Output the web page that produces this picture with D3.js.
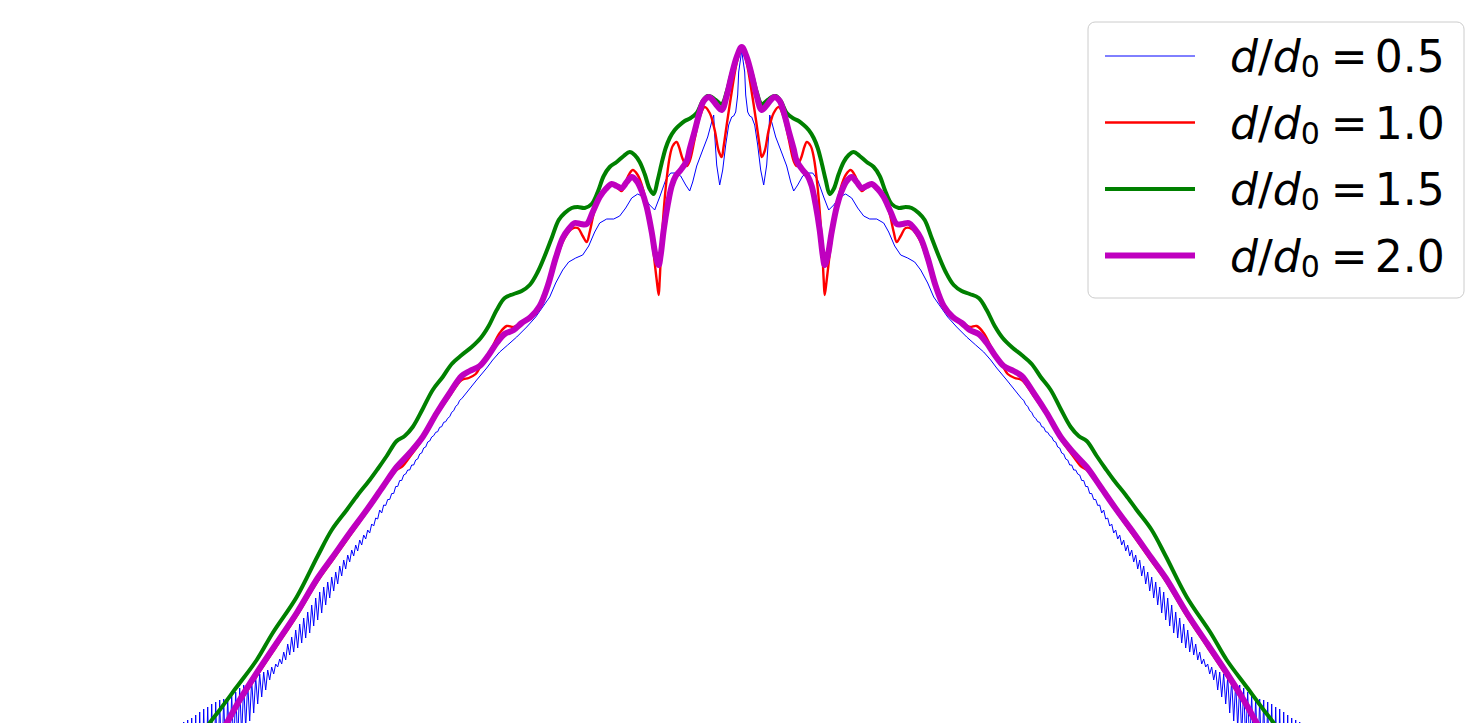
<!DOCTYPE html>
<html>
<head>
<meta charset="utf-8">
<script src="https://cdn.jsdelivr.net/npm/d3@7"></script>
<style>
  html, body { margin: 0; padding: 0; background: #fff; }
  svg { display: block; }
</style>
</head>
<body>
<div id="chart"></div>
<script>
// level (dB, y) against angle (deg, x) for four spacings d/d0
// each flank is listed from the central peak outward
var labels = ['0.5', '1.0', '1.5', '2.0']

var blueLeft = [
  [0, -0.3], [-0.1, -1.1], [-0.3, -2.5], [-0.4, -4.8], [-0.6, -6.5], [-0.8, -6.9], [-1.0, -7.0],
  [-1.3, -7.8], [-1.6, -9.8], [-1.9, -12.3], [-2.2, -13.8], [-2.5, -11.8], [-2.7, -8.8], [-2.8, -6.8],
  [-3.0, -7.5], [-3.4, -9.0], [-3.9, -10.3], [-4.5, -11.9], [-4.9, -13.5], [-5.2, -14.4], [-5.6, -13.8],
  [-6.1, -12.9], [-6.6, -12.6], [-7.1, -12.6], [-7.6, -13.3], [-8.2, -15.0], [-8.7, -16.3], [-9.2, -15.8],
  [-9.8, -15.0], [-10.4, -14.7], [-11.0, -15.1], [-11.6, -16.1], [-12.2, -16.9], [-12.8, -17.2],
  [-13.5, -17.2], [-14.2, -17.6], [-14.7, -18.5], [-15.3, -19.9], [-15.9, -20.8], [-16.6, -21.1],
  [-17.3, -21.5], [-17.9, -22.3], [-18.6, -23.6], [-19.2, -25.0], [-19.9, -26.0], [-20.6, -27.0],
  [-21.5, -28.0], [-22.5, -29.0], [-23.4, -29.8], [-24.2, -30.5], [-24.9, -31.3], [-25.5, -32.1],
  [-26.5, -33.3],
  [-28.0, -35.17], [-28.2, -35.33], [-28.4, -35.77], [-28.6, -35.93], [-28.8, -36.37], [-29.0, -36.53],
  [-29.2, -36.97], [-29.4, -37.13], [-29.6, -37.47], [-29.8, -37.53], [-30.0, -37.97], [-30.2, -38.03],
  [-30.4, -38.47], [-30.6, -38.53], [-30.8, -38.87], [-31.0, -39.0], [-31.2, -39.4], [-31.4, -39.5],
  [-31.6, -40.0], [-31.8, -40.1], [-32.0, -40.6], [-32.2, -40.7], [-32.4, -41.2], [-32.6, -41.3],
  [-32.8, -41.8], [-33.0, -41.8], [-33.2, -42.3], [-33.4, -42.3], [-33.6, -42.7], [-33.8, -42.8],
  [-34.0, -43.35], [-34.2, -43.35], [-34.4, -43.95], [-34.6, -43.95], [-34.8, -44.65], [-35.0, -44.65],
  [-35.2, -45.25], [-35.4, -45.25], [-35.6, -45.85], [-35.8, -45.8], [-36.0, -46.6],
  [-36.2, -46.3], [-36.4, -47.2], [-36.6, -47.1], [-36.8, -47.9], [-37.0, -47.7], [-37.2, -48.6],
  [-37.4, -48.3], [-37.6, -49.2], [-37.8, -48.8], [-38.0, -49.8], [-38.2, -49.3], [-38.4, -50.4],
  [-38.6, -49.8], [-38.8, -50.9], [-39.0, -50.3], [-39.2, -51.5], [-39.4, -50.8], [-39.6, -52.2],
  [-39.8, -51.3], [-40.0, -52.9], [-40.2, -51.9], [-40.4, -53.7], [-40.6, -52.5], [-40.8, -54.4],
  [-41.0, -53.0], [-41.2, -55.1], [-41.4, -53.5], [-41.6, -55.8], [-41.8, -54.0], [-42.0, -56.6],
  [-42.2, -54.5], [-42.4, -57.3], [-42.6, -55.1], [-42.8, -57.9], [-43.0, -55.8], [-43.2, -58.6],
  [-43.4, -56.5], [-43.6, -59.1], [-43.8, -57.1], [-44.0, -59.6], [-44.2, -57.7], [-44.4, -60.1],
  [-44.6, -58.3], [-44.8, -60.5], [-45.0, -59.0], [-45.2, -60.8], [-45.4, -59.7], [-45.6, -61.3],
  [-45.8, -60.5], [-46.0, -61.7], [-46.2, -61.2], [-46.4, -62.0], [-46.6, -61.7], [-46.8, -62.7],
  [-47.0, -62.0], [-47.2, -63.3], [-47.4, -62.3], [-47.6, -64.3], [-47.8, -62.5], [-48.0, -65.0],
  [-48.2, -62.7], [-48.4, -65.7], [-48.6, -63.0], [-48.8, -66.6], [-49.0, -63.3], [-49.2, -67.4],
  [-49.4, -63.6], [-49.6, -68.1], [-49.8, -63.8], [-50.0, -68.8], [-50.2, -64.1], [-50.4, -69.4],
  [-50.6, -64.5], [-50.8, -70.1], [-51.0, -64.8], [-51.2, -70.8], [-51.4, -65.1], [-51.6, -71.4],
  [-51.8, -65.2], [-52.0, -72.0], [-52.2, -65.3], [-52.4, -72.6], [-52.6, -65.5], [-52.8, -73.3],
  [-53.0, -65.7], [-53.2, -73.9], [-53.4, -66.0], [-53.6, -74.4], [-53.8, -66.2], [-54.0, -75.0],
  [-54.2, -66.5], [-54.4, -75.6], [-54.6, -66.8], [-54.8, -76.3], [-55.0, -67.1], [-55.2, -76.8],
  [-55.4, -67.3], [-55.6, -77.3], [-55.8, -67.5], [-56.0, -77.8]
]
var blueRight = [
  [0.1, -1.1], [0.3, -2.5], [0.4, -4.8], [0.6, -6.5], [0.8, -6.9], [1.0, -7.0],
  [1.3, -7.8], [1.6, -9.8], [1.9, -12.3], [2.2, -13.8], [2.5, -11.8], [2.7, -8.8], [2.8, -6.8],
  [3.0, -7.5], [3.4, -9.0], [3.9, -10.3], [4.5, -11.9], [4.9, -13.5], [5.2, -14.4], [5.6, -13.8],
  [6.1, -12.9], [6.6, -12.6], [7.1, -12.6], [7.6, -13.3], [8.2, -15.0], [8.7, -16.3], [9.2, -15.8],
  [9.8, -15.0], [10.4, -14.7], [11.0, -15.1], [11.6, -16.1], [12.2, -16.9], [12.8, -17.2],
  [13.5, -17.2], [14.2, -17.6], [14.7, -18.5], [15.3, -19.9], [15.9, -20.8], [16.6, -21.1],
  [17.3, -21.5], [17.9, -22.3], [18.6, -23.6], [19.2, -25.0], [19.9, -26.0], [20.6, -27.0],
  [21.5, -28.0], [22.5, -29.0], [23.4, -29.8], [24.2, -30.5], [24.9, -31.3], [25.5, -32.1],
  [26.5, -33.3],
  [28.0, -35.17], [28.2, -35.33], [28.4, -35.77], [28.6, -35.93], [28.8, -36.37], [29.0, -36.53],
  [29.2, -36.97], [29.4, -37.13], [29.6, -37.47], [29.8, -37.53], [30.0, -37.97], [30.2, -38.03],
  [30.4, -38.47], [30.6, -38.53], [30.8, -38.87], [31.0, -39.0], [31.2, -39.4], [31.4, -39.5],
  [31.6, -40.0], [31.8, -40.1], [32.0, -40.6], [32.2, -40.7], [32.4, -41.2], [32.6, -41.3],
  [32.8, -41.8], [33.0, -41.8], [33.2, -42.3], [33.4, -42.3], [33.6, -42.7], [33.8, -42.8],
  [34.0, -43.35], [34.2, -43.35], [34.4, -43.95], [34.6, -43.95], [34.8, -44.65], [35.0, -44.65],
  [35.2, -45.25], [35.4, -45.25], [35.6, -45.85], [35.8, -45.8], [36.0, -46.6],
  [36.2, -46.3], [36.4, -47.2], [36.6, -47.1], [36.8, -47.9], [37.0, -47.7], [37.2, -48.6],
  [37.4, -48.3], [37.6, -49.2], [37.8, -48.8], [38.0, -49.8], [38.2, -49.3], [38.4, -50.4],
  [38.6, -49.8], [38.8, -50.9], [39.0, -50.3], [39.2, -51.5], [39.4, -50.8], [39.6, -52.2],
  [39.8, -51.3], [40.0, -52.9], [40.2, -51.9], [40.4, -53.7], [40.6, -52.5], [40.8, -54.4],
  [41.0, -53.0], [41.2, -55.1], [41.4, -53.5], [41.6, -55.8], [41.8, -54.0], [42.0, -56.6],
  [42.2, -54.5], [42.4, -57.3], [42.6, -55.1], [42.8, -57.9], [43.0, -55.8], [43.2, -58.6],
  [43.4, -56.5], [43.6, -59.1], [43.8, -57.1], [44.0, -59.6], [44.2, -57.7], [44.4, -60.1],
  [44.6, -58.3], [44.8, -60.5], [45.0, -59.0], [45.2, -60.8], [45.4, -59.7], [45.6, -61.3],
  [45.8, -60.5], [46.0, -61.7], [46.2, -61.2], [46.4, -62.0], [46.6, -61.7], [46.8, -62.7],
  [47.0, -62.0], [47.2, -63.3], [47.4, -62.3], [47.6, -64.3], [47.8, -62.5], [48.0, -65.0],
  [48.2, -62.7], [48.4, -65.7], [48.6, -63.0], [48.8, -66.6], [49.0, -63.3], [49.2, -67.4],
  [49.4, -63.6], [49.6, -68.1], [49.8, -63.8], [50.0, -68.8], [50.2, -64.1], [50.4, -69.4],
  [50.6, -64.5], [50.8, -70.1], [51.0, -64.8], [51.2, -70.8], [51.4, -65.1], [51.6, -71.4],
  [51.8, -65.2], [52.0, -72.0], [52.2, -65.3], [52.4, -72.6], [52.6, -65.5], [52.8, -73.3],
  [53.0, -65.7], [53.2, -73.9], [53.4, -66.0], [53.6, -74.4], [53.8, -66.2], [54.0, -75.0],
  [54.2, -66.5], [54.4, -75.6], [54.6, -66.8], [54.8, -76.3], [55.0, -67.1], [55.2, -76.8],
  [55.4, -67.3], [55.6, -77.3], [55.8, -67.5], [56.0, -77.8]
]

var redLeft = [
  [0, 0], [-0.5, -1.6], [-1.0, -4.5], [-1.5, -7.8], [-1.8, -9.9], [-2.0, -11.0], [-2.3, -10.4],
  [-2.7, -8.3], [-3.2, -6.6], [-3.7, -6.0], [-4.2, -7.0], [-4.7, -9.2], [-5.2, -11.4], [-5.5, -11.9],
  [-5.9, -11.2], [-6.3, -9.9], [-6.5, -9.5], [-6.9, -9.9], [-7.2, -11.0], [-7.6, -14.1], [-8.0, -19.3],
  [-8.2, -23.3], [-8.3, -24.8], [-8.5, -23.3], [-8.9, -19.9], [-9.4, -16.3], [-9.9, -14.1], [-10.4, -12.8],
  [-10.9, -12.3], [-11.4, -13.0], [-12.0, -14.4], [-12.5, -14.0], [-13.0, -13.6], [-13.6, -14.1],
  [-14.2, -14.9], [-14.8, -16.7], [-15.2, -18.5], [-15.5, -19.5], [-15.9, -18.9], [-16.4, -18.1],
  [-17.0, -18.2], [-17.8, -19.3], [-18.6, -21.5], [-19.4, -24.1], [-20.2, -26.0], [-21.1, -27.0],
  [-22.0, -27.5], [-22.8, -28.0], [-23.5, -27.9], [-24.2, -28.6], [-25.2, -30.5], [-26.1, -31.9],
  [-26.6, -32.7], [-27.3, -33.1], [-28.0, -33.3], [-29.2, -34.9], [-30.5, -36.8], [-31.9, -39.2],
  [-33.2, -41.0], [-33.9, -41.9], [-34.5, -42.3], [-35.9, -44.2], [-37.5, -46.5], [-39.2, -48.9],
  [-40.9, -51.3], [-42.4, -53.4], [-44.5, -56.9], [-46.5, -59.9], [-48.5, -62.9], [-50.2, -65.6],
  [-51.5, -67.9], [-53.0, -70.4]
]
var redRight = [
  [0.5, -1.6], [1.0, -4.5], [1.5, -7.8], [1.8, -9.9], [2.0, -11.0], [2.3, -10.4],
  [2.7, -8.3], [3.2, -6.6], [3.7, -6.0], [4.2, -7.0], [4.7, -9.2], [5.2, -11.4], [5.5, -11.9],
  [5.9, -11.2], [6.3, -9.9], [6.5, -9.5], [6.9, -9.9], [7.2, -11.0], [7.6, -14.1], [8.0, -19.3],
  [8.2, -23.3], [8.3, -24.8], [8.5, -23.3], [8.9, -19.9], [9.4, -16.3], [9.9, -14.1], [10.4, -12.8],
  [10.9, -12.3], [11.4, -13.0], [12.0, -14.4], [12.5, -14.0], [13.0, -13.6], [13.6, -14.1],
  [14.2, -14.9], [14.8, -16.7], [15.2, -18.5], [15.5, -19.5], [15.9, -18.9], [16.4, -18.1],
  [17.0, -18.2], [17.8, -19.3], [18.6, -21.5], [19.4, -24.1], [20.2, -26.0], [21.1, -27.0],
  [22.0, -27.5], [22.8, -28.0], [23.5, -27.9], [24.2, -28.6], [25.2, -30.5], [26.1, -31.9],
  [26.6, -32.7], [27.3, -33.1], [28.0, -33.3], [29.2, -34.9], [30.5, -36.8], [31.9, -39.2],
  [33.2, -41.0], [33.9, -41.9], [34.5, -42.3], [35.9, -44.2], [37.5, -46.5], [39.2, -48.9],
  [40.9, -51.3], [42.4, -53.4], [44.5, -56.9], [46.5, -59.9], [48.5, -62.9], [50.2, -65.6],
  [51.5, -67.9], [53.0, -70.4]
]

var greenLeft = [
  [0, 0], [-0.5, -1.1], [-1.0, -2.6], [-1.5, -4.5], [-2.0, -5.7], [-2.6, -5.3], [-3.0, -5.0],
  [-3.4, -4.9], [-3.9, -5.4], [-4.5, -6.6], [-5.1, -7.1], [-5.7, -7.4], [-6.2, -7.8], [-6.7, -8.3],
  [-7.2, -9.1], [-7.6, -10.1], [-8.0, -11.6], [-8.4, -13.3], [-8.8, -14.7], [-9.2, -14.2], [-9.7, -12.7],
  [-10.2, -11.5], [-10.7, -10.8], [-11.2, -10.5], [-11.8, -10.9], [-12.5, -11.5], [-13.2, -12.0],
  [-13.8, -12.9], [-14.4, -14.5], [-15.0, -15.7], [-15.7, -16.1], [-16.4, -16.0], [-17.0, -16.1],
  [-17.7, -16.6], [-18.3, -17.3], [-19.0, -19.1], [-19.7, -20.9], [-20.4, -22.5], [-21.2, -23.8],
  [-22.0, -24.4], [-22.8, -24.7], [-23.7, -25.1], [-24.5, -26.3], [-25.3, -27.9], [-26.1, -29.1],
  [-27.0, -30.0], [-28.0, -30.8], [-29.0, -31.7], [-29.9, -33.0], [-30.9, -34.3], [-31.9, -36.2],
  [-32.9, -38.0], [-33.7, -38.9], [-34.5, -39.4], [-35.5, -40.9], [-36.4, -42.2], [-37.2, -43.3],
  [-38.4, -44.8], [-39.5, -46.3], [-41.0, -48.3], [-42.4, -50.9], [-44.5, -55.0], [-46.9, -58.6],
  [-48.5, -61.3], [-50.5, -64.0], [-52.2, -66.3], [-53.2, -67.6], [-54.6, -69.8]
]
var greenRight = [
  [0.5, -1.1], [1.0, -2.6], [1.5, -4.5], [2.0, -5.7], [2.6, -5.3], [3.0, -5.0],
  [3.4, -4.9], [3.9, -5.4], [4.5, -6.6], [5.1, -7.1], [5.7, -7.4], [6.2, -7.8], [6.7, -8.3],
  [7.2, -9.1], [7.6, -10.1], [8.0, -11.6], [8.4, -13.3], [8.8, -14.7], [9.2, -14.2], [9.7, -12.7],
  [10.2, -11.5], [10.7, -10.8], [11.2, -10.5], [11.8, -10.9], [12.5, -11.5], [13.2, -12.0],
  [13.8, -12.9], [14.4, -14.5], [15.0, -15.7], [15.7, -16.1], [16.4, -16.0], [17.0, -16.1],
  [17.7, -16.6], [18.3, -17.3], [19.0, -19.1], [19.7, -20.9], [20.4, -22.5], [21.2, -23.8],
  [22.0, -24.4], [22.8, -24.7], [23.7, -25.1], [24.5, -26.3], [25.3, -27.9], [26.1, -29.1],
  [27.0, -30.0], [28.0, -30.8], [29.0, -31.7], [29.9, -33.0], [30.9, -34.3], [31.9, -36.2],
  [32.9, -38.0], [33.7, -38.9], [34.5, -39.4], [35.5, -40.9], [36.4, -42.2], [37.2, -43.3],
  [38.4, -44.8], [39.5, -46.3], [41.0, -48.3], [42.4, -50.9], [44.5, -55.0], [46.9, -58.6],
  [48.5, -61.3], [50.5, -64.0], [52.2, -66.3], [53.2, -67.6], [54.6, -69.8]
]

var magentaLeft = [
  [0, 0], [-0.5, -1.0], [-1.0, -2.8], [-1.5, -4.9], [-2.0, -6.3], [-2.6, -5.7], [-3.0, -5.2],
  [-3.3, -5.0], [-3.8, -5.4], [-4.2, -6.5], [-4.7, -8.4], [-5.2, -10.2], [-5.5, -11.4], [-6.1, -12.3],
  [-6.6, -12.9], [-7.0, -13.9], [-7.4, -15.8], [-7.8, -18.3], [-8.1, -20.8], [-8.3, -21.8], [-8.6, -20.9],
  [-9.0, -18.5], [-9.5, -16.0], [-10.0, -14.4], [-10.5, -13.4], [-11.0, -13.0], [-11.5, -13.5],
  [-12.0, -14.1], [-12.5, -13.9], [-13.0, -13.7], [-13.6, -14.2], [-14.2, -15.0], [-14.9, -16.5],
  [-15.5, -17.7], [-16.1, -17.7], [-16.7, -17.6], [-17.3, -18.2], [-17.9, -19.1], [-18.6, -21.1],
  [-19.4, -23.9], [-20.2, -25.9], [-21.1, -27.0], [-22.0, -27.6], [-22.8, -28.3], [-23.7, -28.7],
  [-24.5, -29.6], [-25.3, -30.8], [-26.2, -31.9], [-27.2, -32.4], [-28.0, -32.9], [-29.2, -34.6],
  [-30.5, -36.6], [-31.9, -39.0], [-33.2, -40.6], [-34.5, -42.0], [-35.9, -44.0], [-37.5, -46.3],
  [-39.2, -48.6], [-40.9, -51.0], [-42.4, -53.1], [-44.5, -56.6], [-46.5, -59.6], [-48.5, -62.6],
  [-50.2, -65.3], [-51.5, -67.6], [-53.0, -70.1]
]
var magentaRight = [
  [0.5, -1.0], [1.0, -2.8], [1.5, -4.9], [2.0, -6.3], [2.6, -5.7], [3.0, -5.2],
  [3.3, -5.0], [3.8, -5.4], [4.2, -6.5], [4.7, -8.4], [5.2, -10.2], [5.5, -11.4], [6.1, -12.3],
  [6.6, -12.9], [7.0, -13.9], [7.4, -15.8], [7.8, -18.3], [8.1, -20.8], [8.3, -21.8], [8.6, -20.9],
  [9.0, -18.5], [9.5, -16.0], [10.0, -14.4], [10.5, -13.4], [11.0, -13.0], [11.5, -13.5],
  [12.0, -14.1], [12.5, -13.9], [13.0, -13.7], [13.6, -14.2], [14.2, -15.0], [14.9, -16.5],
  [15.5, -17.7], [16.1, -17.7], [16.7, -17.6], [17.3, -18.2], [17.9, -19.1], [18.6, -21.1],
  [19.4, -23.9], [20.2, -25.9], [21.1, -27.0], [22.0, -27.6], [22.8, -28.3], [23.7, -28.7],
  [24.5, -29.6], [25.3, -30.8], [26.2, -31.9], [27.2, -32.4], [28.0, -32.9], [29.2, -34.6],
  [30.5, -36.6], [31.9, -39.0], [33.2, -40.6], [34.5, -42.0], [35.9, -44.0], [37.5, -46.3],
  [39.2, -48.6], [40.9, -51.0], [42.4, -53.1], [44.5, -56.6], [46.5, -59.6], [48.5, -62.6],
  [50.2, -65.3], [51.5, -67.6], [53.0, -70.1]
]

var w = 1483
var h = 723

var x = d3.scaleLinear().domain([-75, 75]).range([-8.3, 1491.7])
var y = d3.scaleLinear().domain([0, -70]).range([47, 747])

var series = [
  { label: labels[0], left: blueLeft, right: blueRight, color: '#0000ff', lw: 1, curve: d3.curveLinear },
  { label: labels[1], left: redLeft, right: redRight, color: '#ff0000', lw: 2.4, curve: d3.curveCatmullRom.alpha(0.5) },
  { label: labels[2], left: greenLeft, right: greenRight, color: '#008000', lw: 4, curve: d3.curveCatmullRom.alpha(0.5) },
  { label: labels[3], left: magentaLeft, right: magentaRight, color: '#bf00bf', lw: 6, curve: d3.curveCatmullRom.alpha(0.5) }
]

var svg = d3.select('#chart').append('svg')
  .attr('width', w)
  .attr('height', h)

svg.append('defs').append('clipPath').attr('id', 'plotclip')
  .append('rect').attr('x', 0).attr('y', 0).attr('width', w).attr('height', h)

var plot = svg.append('g').attr('clip-path', 'url(#plotclip)')

series.forEach(function (s) {
  var pts = s.left.slice().reverse().concat(s.right)
  var line = d3.line()
    .x(function (d) { return x(d[0]) })
    .y(function (d) { return y(d[1]) })
    .curve(s.curve)
  plot.append('path')
    .attr('d', line(pts))
    .attr('fill', 'none')
    .attr('stroke', s.color)
    .attr('stroke-width', s.lw)
    .attr('stroke-linejoin', 'round')
})

// legend
var legend = svg.append('g')
legend.append('rect')
  .attr('x', 1088)
  .attr('y', 22)
  .attr('width', 376)
  .attr('height', 276)
  .attr('rx', 7)
  .attr('fill', 'rgba(255,255,255,0.8)')
  .attr('stroke', '#cccccc')
  .attr('stroke-width', 1)

series.forEach(function (s, i) {
  var cy = 56 + i * 66.5
  legend.append('line')
    .attr('x1', 1105)
    .attr('x2', 1195)
    .attr('y1', cy)
    .attr('y2', cy)
    .attr('stroke', s.color)
    .attr('stroke-width', s.lw)

  var t = legend.append('text')
    .attr('x', 1230)
    .attr('y', cy + 16)
    .attr('fill', '#000')
    .style('font-family', '"DejaVu Sans"')
    .style('font-size', '44px')
  t.append('tspan').style('font-style', 'italic').text('d')
  t.append('tspan').text('/')
  t.append('tspan').style('font-style', 'italic').text('d')
  t.append('tspan').attr('dy', 5).style('font-size', '30px').text('0')
  t.append('tspan').attr('dy', -5).attr('dx', 11).text('=')
  t.append('tspan').attr('dx', 7).text(s.label)
})
</script>
</body>
</html>
